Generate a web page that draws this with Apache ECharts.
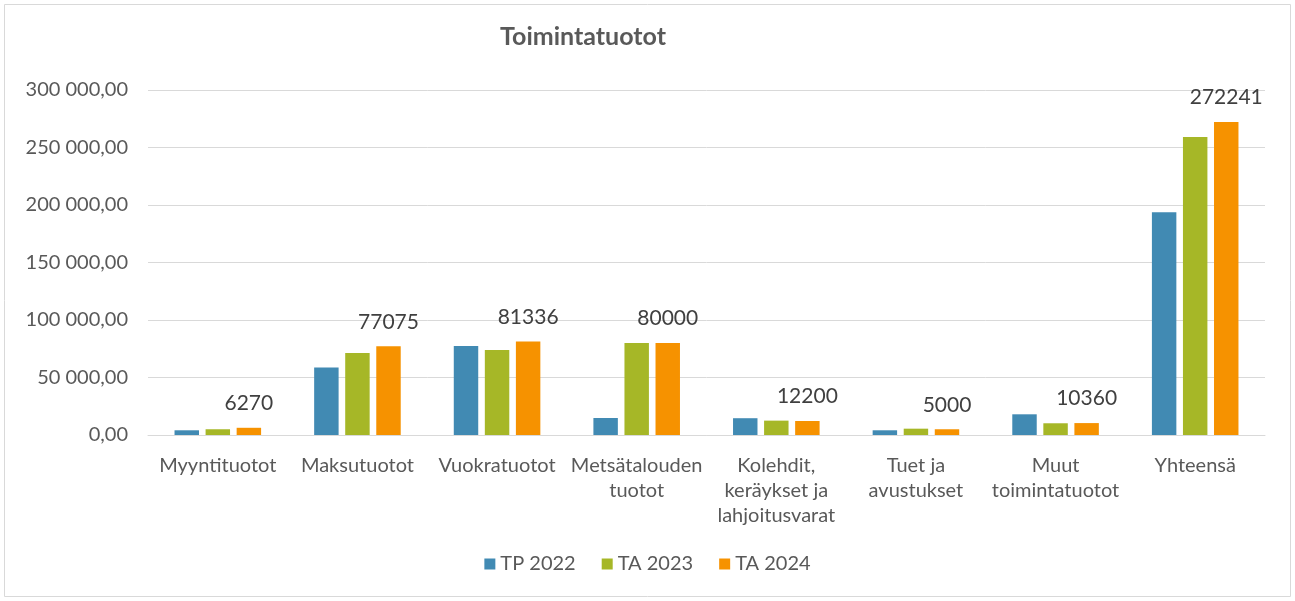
<!DOCTYPE html>
<html>
<head>
<meta charset="utf-8">
<script src="https://cdn.jsdelivr.net/npm/echarts@6/dist/echarts.min.js"></script>
<style>
  html, body { margin: 0; padding: 0; background: #fff; }
  #chart { width: 1295px; height: 601px; }
</style>
</head>
<body>
<div id="chart"></div>
<script>
var categories = ['Myyntituotot', 'Maksutuotot', 'Vuokratuotot', 'Metsätalouden\ntuotot',
                  'Kolehdit,\nkeräykset ja\nlahjoitusvarat', 'Tuet ja\navustukset',
                  'Muut\ntoimintatuotot', 'Yhteensä'];
var seriesNames = ['TP 2022', 'TA 2023', 'TA 2024'];
var tp2022 = [4100, 58800, 77400, 14800, 14600, 4100, 18000, 193700];
var ta2023 = [5000, 71300, 73900, 80000, 12500, 5500, 10200, 259200];
var ta2024 = [6270, 77075, 81336, 80000, 12200, 5000, 10360, 272241];
var colors = ['#418AB3', '#A6B727', '#F69200'];

function fiNumber(v) {
	var s = String(Math.round(v));
	s = s.replace(/\B(?=(\d{3})+(?!\d))/g, ' ');
	return s + ',00';
}

var font = 'Lato, "Open Sans", sans-serif';

var option = {
	animation: false,
	textStyle: { fontFamily: font },
	title: {
		text: 'Toimintatuotot',
		left: 578,
		textAlign: 'center',
		top: 19,
		textStyle: { fontFamily: font, fontSize: 25, fontWeight: 'bold', color: '#595959' }
	},
	legend: {
		data: seriesNames,
		bottom: 22,
		left: 'center',
		itemWidth: 11,
		itemHeight: 11,
		itemGap: 26,
		icon: 'rect',
		textStyle: { fontFamily: font, fontSize: 20, color: '#595959' }
	},
	grid: { left: 148, right: 30, top: 90, bottom: 166, containLabel: false },
	xAxis: {
		type: 'category',
		data: categories,
		axisLine: { lineStyle: { color: '#d9d9d9', width: 1 } },
		axisTick: { show: false },
		axisLabel: {
			interval: 0,
			margin: 18,
			fontFamily: font,
			fontSize: 20,
			lineHeight: 25,
			color: '#595959'
		}
	},
	yAxis: {
		type: 'value',
		min: 0,
		max: 300000,
		interval: 50000,
		axisLine: { show: false },
		axisTick: { show: false },
		splitLine: { lineStyle: { color: '#d9d9d9', width: 1 } },
		axisLabel: {
			margin: 20,
			fontFamily: font,
			fontSize: 20,
			color: '#595959',
			formatter: fiNumber
		}
	},
	series: [
		{
			name: seriesNames[0], type: 'bar', data: tp2022,
			itemStyle: { color: colors[0] },
			barGap: '27%', barCategoryGap: '38%'
		},
		{
			name: seriesNames[1], type: 'bar', data: ta2023,
			itemStyle: { color: colors[1] }
		},
		{
			name: seriesNames[2], type: 'bar', data: ta2024,
			itemStyle: { color: colors[2] },
			label: {
				show: true,
				position: 'top',
				distance: 14,
				fontFamily: font,
				fontSize: 21,
				color: '#404040'
			}
		}
	],
	graphic: [
		{
			type: 'rect',
			shape: { x: 4.5, y: 4.5, width: 1286, height: 592 },
			style: { fill: 'none', stroke: '#d9d9d9', lineWidth: 1 },
			silent: true
		}
	]
};

var mychart = echarts.init(document.getElementById('chart'));
mychart.setOption(option);
</script>
</body>
</html>
